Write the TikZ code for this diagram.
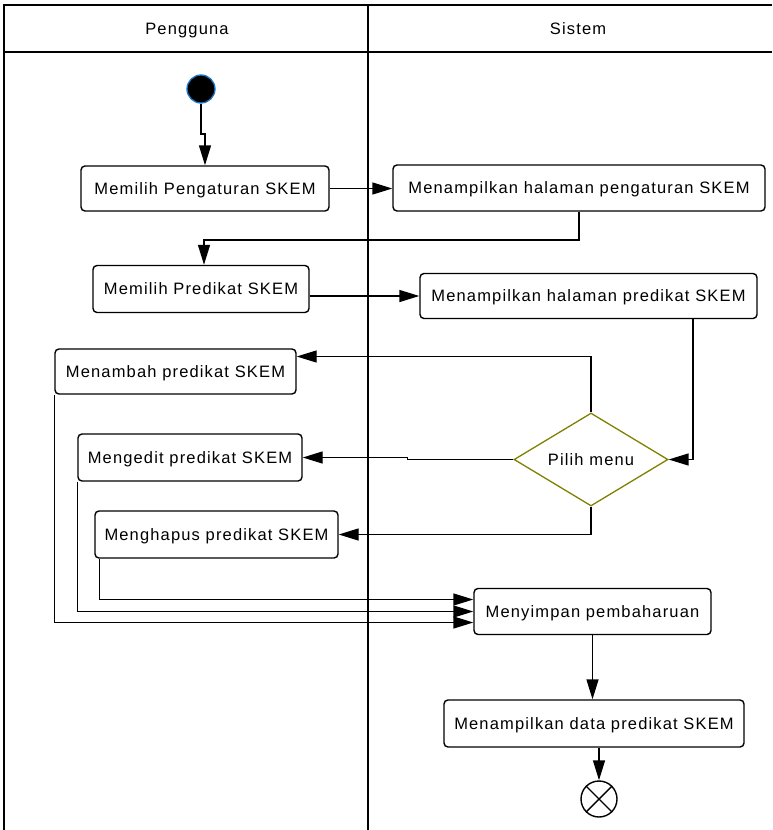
\documentclass[tikz,border=0pt]{standalone}
\usepackage{fontspec}
\usetikzlibrary{shapes.geometric,arrows.meta}
\newfontfamily\lblfont[LetterSpace=7]{Liberation Sans}
\definecolor{startblue}{RGB}{30,120,200}
\definecolor{olivedraw}{RGB}{128,128,0}
\tikzset{
  lbl/.style={font=\lblfont\fontsize{16.5}{19}\selectfont, text height=11.8pt, text depth=0pt},
  act/.style={lbl, draw, rounded corners=4pt, line width=1.4pt, inner sep=0pt},
  decide/.style={lbl, draw=olivedraw, diamond, aspect=1.66, line width=1.3pt, inner sep=0pt,
    minimum width=154pt, minimum height=93pt},
  flow/.style={line width=1.4pt, -{Triangle[length=20pt,width=12pt]}},
  lane/.style={line width=1.3pt},
  lanetitle/.style={lbl}
}
\begin{document}
\begin{tikzpicture}[x=1pt,y=-1pt]
\useasboundingbox (0,0) rectangle (772,830);
% swimlanes
\draw[lane] (4,830) -- (4,5) -- (772,5);
\draw[lane] (4,52) -- (772,52);
\draw[lane] (368,5) -- (368,830);
\node[lanetitle] (t1) at (187,29) {Pengguna};
\node[lanetitle] (t2) at (578,29) {Sistem};
% initial node
\node[circle, fill=black, draw=startblue, line width=1.3pt, minimum size=28pt, inner sep=0pt] (start) at (201,89) {};
% actions
\node[act, minimum width=248pt, minimum height=45pt] (b1) at (205,188.5) {Memilih Pengaturan SKEM};
\node[act, minimum width=372pt, minimum height=46pt] (b2) at (579,188) {Menampilkan halaman pengaturan SKEM};
\node[act, minimum width=216pt, minimum height=47pt] (b3) at (201,289) {Memilih Predikat SKEM};
\node[act, minimum width=337pt, minimum height=45pt] (b4) at (588.5,296) {Menampilkan halaman predikat SKEM};
\node[act, minimum width=241pt, minimum height=45pt] (b5) at (175.5,371.5) {Menambah predikat SKEM};
\node[act, minimum width=224pt, minimum height=47pt] (b6) at (190,457.5) {Mengedit predikat SKEM};
\node[act, minimum width=243pt, minimum height=47pt] (b7) at (216.5,534.5) {Menghapus predikat SKEM};
\node[act, minimum width=237pt, minimum height=46pt] (b8) at (592.5,611.5) {Menyimpan pembaharuan};
\node[act, minimum width=300pt, minimum height=47pt] (b9) at (594,723.5) {Menampilkan data predikat SKEM};
% decision
\node[decide] (d) at (591,459.5) {Pilih menu};
% final node
\node[circle, draw, line width=1.4pt, minimum size=36pt, inner sep=0pt] (fin) at (599,799) {};
\draw[line width=1.4pt] (fin.north east) -- (fin.south west) (fin.north west) -- (fin.south east);
% flows
\coordinate (j1) at (201,134);
\draw[flow] (start.south) -- (j1) -| (b1.north);
\draw[flow] (b1.east) -- (b1.east -| b2.west);
\coordinate (j2) at (204,240);
\draw[flow] (b2.south) |- (j2) -- (j2 |- b3.north);
\draw[flow] (b3.east |- b4.west) -- (b4.west);
\draw[flow] ([xshift=104.5pt]b4.south) |- (d.east);
\draw[flow] (d.north) |- ([yshift=15pt]b5.east);
\draw[flow] (d.west) -- ++(-106,0) |- (b6.east);
\draw[flow] (d.south) |- (b7.east);
\draw[flow] ([xshift=5pt]b7.south west) |- ([yshift=12pt]b8.west);
\draw[flow] (b6.south west) |- (b8.west);
\draw[flow] (b5.south west) |- ([yshift=-11pt]b8.west);
\draw[flow] (b8.south) -- (b8.south |- b9.north);
\draw[flow] (fin.north |- b9.south) -- (fin.north);
\end{tikzpicture}
\end{document}
